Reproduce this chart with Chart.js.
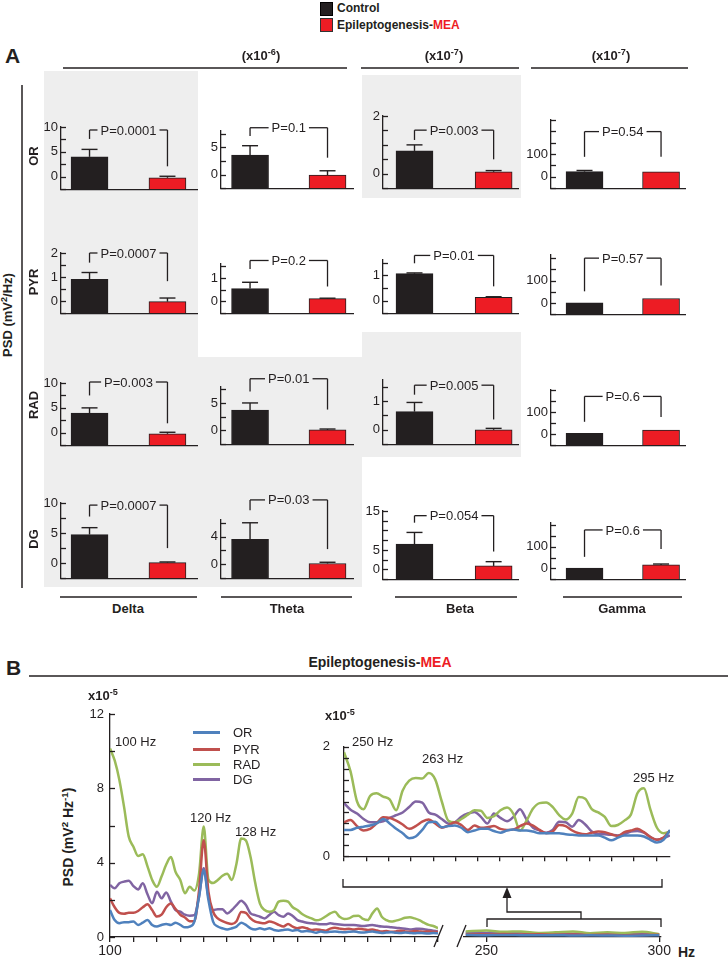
<!DOCTYPE html>
<html>
<head>
<meta charset="utf-8">
<script src="https://cdn.jsdelivr.net/npm/chart.js@4.4.0/dist/chart.umd.min.js"></script>
<style>
  html, body { margin:0; padding:0; background:#fff; }
  #page { position:relative; width:728px; height:959px; overflow:hidden; font-family:"Liberation Sans", Arial, sans-serif; color:#231f20; }
  .t { position:absolute; white-space:nowrap; line-height:1; }
  .gray { position:absolute; background:#eeeeee; }
  canvas { position:absolute; }
  sup { font-size:70%; vertical-align:0.5em; line-height:0; }
  svg { position:absolute; left:0; top:0; }
</style>
</head>
<body>
<div id="page"></div>
<script>
// ---------- panel A data (rows = regions, columns = bands) ----------
const regions = ['OR', 'PYR', 'RAD', 'DG'];
const bands = ['Delta', 'Theta', 'Beta', 'Gamma'];

const controlMean = [
  [4.0, 3.6, 0.79, 23],
  [0.91, 0.55, 1.06, 1],
  [3.96, 3.7, 0.63, 4],
  [4.75, 3.6, 6.5, 1]
];
const controlSem = [
  [1.5, 1.7, 0.21, 5],
  [0.28, 0.27, 0.03, 0],
  [1.04, 1.3, 0.32, 0],
  [1.15, 2.4, 3.0, 0]
];
const meaMean = [
  [-0.2, -0.1, 0.07, 22],
  [-0.02, 0.12, 0.13, 20],
  [-0.2, 0.1, 0.0, 19],
  [0.1, 0.12, 0.9, 16]
];
const meaSem = [
  [0.3, 0.8, 0.04, 0],
  [0.15, 0.02, 0.02, 0],
  [0.3, 0.16, 0.05, 0],
  [0.1, 0.18, 1.1, 4]
];
const pValues = [
  ['P=0.0001', 'P=0.1', 'P=0.003', 'P=0.54'],
  ['P=0.0007', 'P=0.2', 'P=0.01', 'P=0.57'],
  ['P=0.003', 'P=0.01', 'P=0.005', 'P=0.6'],
  ['P=0.0007', 'P=0.03', 'P=0.054', 'P=0.6']
];
// bracket height and leg ends (value units)
const bracketTop = [[9.4, 8.6, 1.51, 199], [2.0, 1.75, 1.78, 200], [10.2, 9.4, 1.55, 171], [9.65, 9.3, 13.8, 177]];
const legLeft = [[7.6, 7.1, 1.17, 88], [1.6, 1.39, 1.47, 52], [7.5, 7.1, 1.22, 56], [7.75, 7.8, 12.0, 53]];
const legRight = [[2.1, 3.1, 0.5, 88], [0.83, 0.64, 0.56, 78], [1.9, 3.8, 0.36, 78], [2.5, 2.2, 4.6, 89]];
// axes
const yMin = [[-2.5, -2.5, -0.5, -50], [-0.5, -0.5, -0.5, -50], [-2.5, -2.5, -0.5, -50], [-2.5, -2, -2.5, -50]];
const yMax = [[10, 8, 2, 250], [2, 1.6, 1.6, 214], [10, 7.9, 1.73, 200], [10, 6.4, 15, 209]];
const yStep = [[2.5, 2.5, 0.5, 50], [0.5, 0.5, 0.5, 50], [2.5, 2.5, 0.5, 50], [2.5, 2, 2.5, 50]];
const yLabels = [
  [[0, 5, 10], [0, 5], [0, 2], [0, 100]],
  [[0, 1, 2], [0, 1], [0, 1], [0, 100]],
  [[0, 5, 10], [0, 5], [0, 1], [0, 100]],
  [[0, 5, 10], [0, 4], [0, 5, 15], [0, 100]]
];

// ---------- panel B data (x10^-5) ----------
const freqLow = Array.from({length: 71}, (_, i) => 100 + i);
const orLow = [1.45, 0.91, 0.74, 0.8, 0.8, 0.83, 0.65, 0.77, 0.91, 0.65,
  0.56, 0.65, 0.7, 0.65, 0.77, 0.65, 0.52, 0.56, 0.83, 2.17,
  3.6, 2.0, 0.83, 0.56, 0.47, 0.41, 0.47, 0.56, 0.77, 0.65,
  0.47, 0.41, 0.47, 0.41, 0.47, 0.38, 0.34, 0.38, 0.41, 0.34,
  0.38, 0.29, 0.32, 0.29, 0.23, 0.29, 0.25, 0.28, 0.3, 0.27,
  0.25, 0.28, 0.3, 0.26, 0.24, 0.27, 0.29, 0.25, 0.22, 0.24,
  0.26, 0.23, 0.21, 0.24, 0.22, 0.2, 0.22, 0.2, 0.19, 0.21, 0.2];
const pyrLow = [2.08, 1.6, 1.3, 1.25, 1.3, 1.3, 1.4, 1.6, 1.76, 1.45,
  1.1, 1.2, 1.6, 1.8, 1.5, 1.2, 1.05, 0.85, 0.85, 2.5,
  5.2, 2.44, 1.36, 1.0, 0.85, 0.75, 0.7, 0.85, 1.35, 1.3,
  1.0, 0.83, 0.77, 0.74, 0.83, 0.77, 0.65, 0.56, 0.7, 0.56,
  0.47, 0.52, 0.47, 0.38, 0.41, 0.38, 0.34, 0.45, 0.5, 0.45,
  0.42, 0.45, 0.4, 0.45, 0.42, 0.38, 0.4, 0.35, 0.3, 0.32,
  0.28, 0.3, 0.34, 0.3, 0.28, 0.32, 0.3, 0.28, 0.3, 0.28, 0.27];
const radLow = [10.15, 9.5, 8.45, 7.0, 5.4, 4.86, 4.36, 4.45, 3.8, 3.07,
  2.7, 3.25, 3.9, 4.3, 3.5, 3.07, 2.35, 2.7, 2.5, 3.4,
  5.94, 3.1, 2.9, 3.07, 3.3, 3.4, 3.07, 3.96, 5.3, 5.2,
  4.3, 2.9, 1.8, 1.45, 1.36, 1.45, 1.9, 1.95, 1.9, 1.6,
  1.45, 1.24, 1.1, 1.0, 0.9, 0.95, 1.1, 1.27, 1.36, 1.09,
  0.97, 1.0, 1.13, 1.15, 0.97, 0.91, 1.27, 1.54, 1.09, 0.91,
  0.83, 0.88, 0.95, 1.04, 1.06, 1.0, 0.91, 0.77, 0.65, 0.59, 0.47];
const dgLow = [2.8, 2.62, 2.89, 2.98, 3.03, 2.74, 2.56, 2.89, 2.3, 1.81,
  2.44, 2.08, 2.4, 1.9, 1.45, 1.36, 1.2, 1.15, 1.18, 2.17,
  3.7, 2.17, 1.45, 1.5, 1.49, 1.27, 1.45, 1.72, 1.95, 1.72,
  1.27, 1.18, 1.09, 1.0, 1.18, 1.36, 1.18, 1.09, 1.27, 1.13,
  0.91, 0.83, 0.77, 0.74, 0.72, 0.68, 0.68, 0.74, 0.7, 0.67,
  0.65, 0.64, 0.65, 0.62, 0.59, 0.62, 0.65, 0.6, 0.56, 0.55,
  0.52, 0.5, 0.47, 0.44, 0.41, 0.43, 0.45, 0.42, 0.38, 0.34, 0.3];

// inset 250-300 Hz
const freqHigh = Array.from({length: 51}, (_, i) => 250 + i);
const orHigh = [0.48, 0.48, 0.52, 0.54, 0.56, 0.6, 0.68, 0.6, 0.5, 0.42,
  0.33, 0.36, 0.48, 0.62, 0.63, 0.53, 0.55, 0.56, 0.52, 0.44,
  0.47, 0.5, 0.5, 0.46, 0.43, 0.47, 0.49, 0.47, 0.47, 0.45,
  0.42, 0.42, 0.42, 0.42, 0.4, 0.39, 0.38, 0.38, 0.38, 0.38,
  0.34, 0.29, 0.34, 0.38, 0.38, 0.38, 0.36, 0.3, 0.25, 0.3, 0.48];
const pyrHigh = [0.62, 0.66, 0.55, 0.47, 0.5, 0.6, 0.71, 0.7, 0.65, 0.58,
  0.5, 0.55, 0.63, 0.67, 0.6, 0.52, 0.56, 0.62, 0.57, 0.48,
  0.56, 0.52, 0.53, 0.55, 0.5, 0.48, 0.49, 0.55, 0.6, 0.56,
  0.48, 0.42, 0.45, 0.57, 0.55, 0.47, 0.42, 0.4, 0.43, 0.45,
  0.44, 0.4, 0.37, 0.44, 0.47, 0.5, 0.44, 0.35, 0.3, 0.34, 0.47];
const radHigh = [1.9, 1.55, 1.0, 0.86, 1.1, 1.15, 1.09, 1.04, 0.84, 1.2,
  1.38, 1.43, 1.42, 1.52, 1.4, 1.0, 0.65, 0.62, 0.68, 0.76,
  0.84, 0.83, 0.7, 0.73, 0.84, 0.89, 0.77, 0.47, 0.65, 0.87,
  0.97, 0.98, 0.9, 0.75, 0.67, 0.78, 1.08, 1.05, 0.86, 0.8,
  0.72, 0.55, 0.57, 0.65, 0.76, 1.15, 1.24, 0.85, 0.52, 0.42, 0.45];
const dgHigh = [0.97, 0.85, 0.78, 0.68, 0.62, 0.62, 0.64, 0.7, 0.75, 0.8,
  0.9, 1.0, 0.98, 0.8, 0.76, 0.68, 0.6, 0.62, 0.72, 0.78,
  0.81, 0.72, 0.6, 0.78, 0.7, 0.64, 0.72, 0.86, 0.67, 0.52,
  0.47, 0.43, 0.48, 0.63, 0.62, 0.54, 0.66, 0.58, 0.45, 0.4,
  0.4, 0.39, 0.38, 0.4, 0.45, 0.46, 0.43, 0.35, 0.3, 0.33, 0.38];

// main plot after the axis break
const freqTail = [244, 250, 255, 260, 265, 270, 275, 280, 285, 290, 295, 300];
const orTail = [0.12, 0.1, 0.11, 0.1, 0.09, 0.1, 0.08, 0.09, 0.08, 0.07, 0.08, 0.1];
const pyrTail = [0.15, 0.14, 0.16, 0.13, 0.15, 0.12, 0.13, 0.11, 0.12, 0.1, 0.11, 0.12];
const radTail = [0.3, 0.35, 0.28, 0.3, 0.22, 0.25, 0.3, 0.2, 0.25, 0.22, 0.28, 0.15];
const dgTail = [0.25, 0.22, 0.2, 0.24, 0.18, 0.2, 0.17, 0.18, 0.15, 0.14, 0.16, 0.12];

const lineColors = ['#4f81bd', '#c0504d', '#9bbb59', '#8064a2'];

// ---------- layout ----------
const INK = '#231f20', RED = '#ed1c24';
const FONT = "'Liberation Sans', Arial, sans-serif";
Chart.defaults.font.family = FONT;
Chart.defaults.color = INK;

const colAxisX = [61, 221, 383, 551];
const colEndX = [197, 353, 518, 685];
const colXRange = [[-0.366, 1.379], [-0.375, 1.329], [-0.398, 1.308], [-0.438, 1.313]];
const cellTop = [[127, 131, 116, 120], [253, 264, 260, 255], [383, 387, 380, 390], [503, 520, 511, 523]];
const cellBottom = [[198, 197, 197, 197], [322, 322, 322, 323], [454, 453, 453, 454], [587, 587, 588, 588]];

const page = document.getElementById('page');

function box(x, y, w, h, css) {
  const d = document.createElement('div');
  d.className = 'gray';
  d.style.left = x + 'px'; d.style.top = y + 'px';
  d.style.width = w + 'px'; d.style.height = h + 'px';
  if (css) d.style.cssText += css;
  page.appendChild(d);
}

function label(x, y, html, size, bold, align, rot) {
  const d = document.createElement('div');
  d.className = 't';
  d.innerHTML = html;
  d.style.left = x + 'px'; d.style.top = y + 'px';
  d.style.fontSize = size + 'px';
  if (bold) d.style.fontWeight = 'bold';
  const tx = align === 'c' ? '-50%' : align === 'r' ? '-100%' : '0';
  d.style.transform = 'translate(' + tx + ', -50%)' + (rot ? ' rotate(-90deg)' : '');
  page.appendChild(d);
}

function addCanvas(x, y, w, h) {
  const c = document.createElement('canvas');
  c.width = w; c.height = h;
  c.style.left = x + 'px'; c.style.top = y + 'px';
  c.style.width = w + 'px'; c.style.height = h + 'px';
  page.appendChild(c);
  return c;
}

// gray backgrounds
box(44, 71, 154, 516);
box(198, 357, 164, 230);
box(362, 75, 159, 123);
box(362, 332, 159, 125);

// ticks pointing into the plot
const inwardTicks = {
  id: 'inwardTicks',
  afterDraw(chart, args, o) {
    if (!o.len) return;
    const ys = chart.scales.y, a = chart.chartArea, ctx = chart.ctx;
    ctx.save();
    ctx.strokeStyle = INK; ctx.lineWidth = 1.3;
    ys.ticks.forEach(t => {
      const py = Math.round(ys.getPixelForValue(t.value)) + 0.5;
      ctx.beginPath(); ctx.moveTo(a.left, py); ctx.lineTo(a.left + o.len, py); ctx.stroke();
    });
    ctx.restore();
  }
};

// error bars + significance bracket
const barMarks = {
  id: 'barMarks',
  afterDatasetsDraw(chart, args, o) {
    const ctx = chart.ctx, xs = chart.scales.x, ys = chart.scales.y;
    const seg = (x1, y1, x2, y2) => { ctx.beginPath(); ctx.moveTo(x1, y1); ctx.lineTo(x2, y2); ctx.stroke(); };
    ctx.save();
    ctx.strokeStyle = INK; ctx.lineWidth = 1.4;
    const bars = chart.getDatasetMeta(0).data;
    o.mean.forEach((m, i) => {
      if (!o.sem[i]) return;
      const x = bars[i].x, y0 = ys.getPixelForValue(m), y1 = ys.getPixelForValue(m + o.sem[i]);
      seg(x, y0, x, y1); seg(x - 8, y1, x + 8, y1);
    });
    const xl = xs.getPixelForValue(0), xr = xs.getPixelForValue(1);
    const yb = ys.getPixelForValue(o.top);
    ctx.lineWidth = 1.3;
    ctx.font = '13px ' + FONT;
    const tw = ctx.measureText(o.p).width, xm = (xl + xr) / 2;
    seg(xl, ys.getPixelForValue(o.legL), xl, yb);
    seg(xl, yb, xm - tw / 2 - 3, yb);
    seg(xm + tw / 2 + 3, yb, xr, yb);
    seg(xr, yb, xr, ys.getPixelForValue(o.legR));
    ctx.fillStyle = INK; ctx.textAlign = 'center'; ctx.textBaseline = 'middle';
    ctx.fillText(o.p, xm, yb + 1);
    ctx.restore();
  }
};

// ---------- panel A: 16 bar charts ----------
regions.forEach((reg, r) => {
  bands.forEach((band, c) => {
    const ax = colAxisX[c], top = cellTop[r][c], bot = cellBottom[r][c];
    const cv = addCanvas(ax - 30, top - 40, 30 + colEndX[c] - ax + 2, 40 + bot - top + 2);
    const shown = yLabels[r][c];
    new Chart(cv, {
      type: 'bar',
      data: {
        datasets: [{
          data: [{x: 0, y: controlMean[r][c]}, {x: 1, y: meaMean[r][c]}],
          backgroundColor: [INK, RED],
          borderColor: INK,
          borderWidth: 1,
          barThickness: 37,
          base: yMin[r][c]
        }]
      },
      options: {
        animation: false, responsive: false, events: [],
        layout: {padding: {top: 40, right: 2, bottom: 2, left: 0}},
        plugins: {
          legend: {display: false}, tooltip: {enabled: false},
          inwardTicks: {len: 5},
          barMarks: {
            mean: [controlMean[r][c], meaMean[r][c]], sem: [controlSem[r][c], meaSem[r][c]],
            p: pValues[r][c], top: bracketTop[r][c], legL: legLeft[r][c], legR: legRight[r][c]
          }
        },
        scales: {
          x: {
            type: 'linear', offset: false, min: colXRange[c][0], max: colXRange[c][1],
            ticks: {display: false}, grid: {display: false, drawTicks: false},
            border: {display: true, color: INK, width: 1.3},
            afterFit: s => { s.height = 0; }
          },
          y: {
            min: yMin[r][c], max: yMax[r][c], beginAtZero: false,
            ticks: {stepSize: yStep[r][c], includeBounds: false, autoSkip: false, padding: 3,
              font: {size: 13}, color: INK,
              callback: v => shown.includes(v) ? String(v) : ''},
            grid: {display: false, drawTicks: false},
            border: {display: true, color: INK, width: 1.3},
            afterFit: s => { s.width = 30; }
          }
        }
      },
      plugins: [inwardTicks, barMarks]
    });
  });
});

// ---------- panel B ----------
function lineSets(xs, arrays) {
  return arrays.map((arr, k) => ({
    label: regions[k],
    data: arr.map((v, i) => ({x: xs[i], y: v})),
    borderColor: lineColors[k], borderWidth: 2.5,
    pointRadius: 0, fill: false, cubicInterpolationMode: 'monotone'
  }));
}
const baseOpts = {animation: false, responsive: false, events: [],
  plugins: {legend: {display: false}, tooltip: {enabled: false}}};

// main plot, 100-170 Hz
new Chart(addCanvas(80, 700, 360, 259), {
  type: 'line',
  data: {datasets: lineSets(freqLow, [orLow, pyrLow, radLow, dgLow])},
  options: Object.assign({}, baseOpts, {
    layout: {padding: {top: 14, right: 2, bottom: 0, left: 0}},
    plugins: Object.assign({}, baseOpts.plugins, {inwardTicks: {len: 5}}),
    scales: {
      x: {type: 'linear', min: 100, max: 170,
        ticks: {stepSize: 5, autoSkip: false, maxRotation: 0, padding: 1, font: {size: 14},
          callback: v => v === 100 ? '100' : ''},
        grid: {drawOnChartArea: false, tickLength: 5, color: INK, lineWidth: 1.3},
        border: {color: INK, width: 1.3},
        afterFit: s => { s.height = 22; }},
      y: {min: 0, max: 12,
        ticks: {stepSize: 2, autoSkip: false, padding: 6, font: {size: 13},
          callback: v => v % 4 === 0 ? String(v) : ''},
        grid: {display: false, drawTicks: false},
        border: {color: INK, width: 1.3},
        afterFit: s => { s.width = 30; }}
    }
  }),
  plugins: [inwardTicks]
});

// main plot after the break
new Chart(addCanvas(460, 700, 212, 259), {
  type: 'line',
  data: {datasets: lineSets(freqTail, [orTail, pyrTail, radTail, dgTail])},
  options: Object.assign({}, baseOpts, {
    layout: {padding: {top: 14, right: 9, bottom: 0, left: 4}},
    scales: {
      x: {type: 'linear', min: 243.5, max: 300.5,
        afterBuildTicks: s => { s.ticks = [{value: 250}, {value: 300}]; },
        ticks: {autoSkip: false, maxRotation: 0, padding: 1, font: {size: 14}, callback: v => String(v)},
        grid: {drawOnChartArea: false, tickLength: 5, color: INK, lineWidth: 1.3},
        border: {color: INK, width: 1.3},
        afterFit: s => { s.height = 22; }},
      y: {display: false, min: 0, max: 12}
    }
  })
});

// inset 250-300 Hz
const insetTicks = Array.from({length: 15}, (_, i) => ({value: 250 + i * 3.42}));
new Chart(addCanvas(310, 725, 364, 153), {
  type: 'line',
  data: {datasets: lineSets(freqHigh, [orHigh, pyrHigh, radHigh, dgHigh])},
  options: Object.assign({}, baseOpts, {
    layout: {padding: {top: 12, right: 4, bottom: 0, left: 0}},
    plugins: Object.assign({}, baseOpts.plugins, {inwardTicks: {len: 5}}),
    scales: {
      x: {type: 'linear', min: 250, max: 300,
        afterBuildTicks: s => { s.ticks = insetTicks.slice(); },
        ticks: {display: false},
        grid: {drawOnChartArea: false, tickLength: 5, color: INK, lineWidth: 1.3},
        border: {color: INK, width: 1.3},
        afterFit: s => { s.height = 6; }},
      y: {min: 0, max: 2,
        ticks: {stepSize: 0.2, autoSkip: false, padding: 14, font: {size: 13},
          callback: v => (v === 0 || v === 2) ? String(v) : ''},
        grid: {display: false, drawTicks: false},
        border: {color: INK, width: 1.3},
        afterFit: s => { s.width = 34; }}
    }
  }),
  plugins: [inwardTicks]
});

// ---------- texts ----------
box(320, 2, 11, 12, 'background:' + INK + ';border:1px solid #000;');
box(320, 18, 11, 12, 'background:' + RED + ';border:1px solid #333;');
label(337, 8, 'Control', 12, true, 'l');
label(337, 25, 'Epileptogenesis-<span style="color:' + RED + '">MEA</span>', 12, true, 'l');

label(5, 55, 'A', 21, true, 'l');
label(261, 55, '(x10<sup>-6</sup>)', 13, true, 'c');
label(444, 55, '(x10<sup>-7</sup>)', 13, true, 'c');
label(611, 55, '(x10<sup>-7</sup>)', 13, true, 'c');
label(7, 315, 'PSD (mV<sup>2</sup>/Hz)', 13, true, 'c', true);
const rowLabelY = [156, 282, 405, 539];
regions.forEach((reg, r) => label(33, rowLabelY[r], reg, 13, true, 'c', true));
const bandLabelX = [128, 287, 460, 622];
bands.forEach((b, c) => label(bandLabelX[c], 608, b, 13, true, 'c'));

label(6, 667, 'B', 21, true, 'l');
label(380, 662, 'Epileptogenesis-<span style="color:' + RED + '">MEA</span>', 14, true, 'c');
label(88, 695, 'x10<sup>-5</sup>', 13, true, 'l');
label(325, 715, 'x10<sup>-5</sup>', 13, true, 'l');
label(68, 837, 'PSD (mV<sup>2</sup> Hz<sup>-1</sup>)', 14, true, 'c', true);
label(678, 952, 'Hz', 14, true, 'l');

const legendY = [732, 749, 764, 779];
regions.forEach((reg, k) => {
  box(193, legendY[k] - 1.5, 27, 3, 'background:' + lineColors[k] + ';');
  label(233, legendY[k], reg, 13, false, 'l');
});
label(115, 741, '100 Hz', 13, false, 'l');
label(190, 817, '120 Hz', 13, false, 'l');
label(235, 831, '128 Hz', 13, false, 'l');
label(352, 741, '250 Hz', 13, false, 'l');
label(422, 758, '263 Hz', 13, false, 'l');
label(633, 777, '295 Hz', 13, false, 'l');

// ---------- rules, brackets, arrow ----------
const svg = [];
function seg(x1, y1, x2, y2, w) {
  svg.push('<line x1="' + x1 + '" y1="' + y1 + '" x2="' + x2 + '" y2="' + y2 + '" stroke="' + INK + '" stroke-width="' + (w || 1.3) + '"/>');
}
function poly(pts, w) {
  svg.push('<polyline points="' + pts + '" fill="none" stroke="' + INK + '" stroke-width="' + (w || 1.3) + '"/>');
}
seg(63, 68, 347, 68, 1.5); seg(361, 68, 519, 68, 1.5); seg(531, 68, 688, 68, 1.5);
seg(22, 85, 22, 588, 1.5);
seg(60, 597, 197, 597, 1.5); seg(221, 597, 352, 597, 1.5); seg(395, 597, 517, 597, 1.5); seg(563, 597, 682, 597, 1.5);
seg(29, 676, 728, 676, 1.5);
poly('343,879 343,887 662,887 662,879');
poly('581,919 581,912 507,912 507,896');
svg.push('<polygon points="507,887 502.5,898 511.5,898" fill="' + INK + '"/>');
poly('487,927 487,919 661,919 661,927');
seg(434, 947, 443, 925); seg(457, 947, 466, 925);
const s = document.createElementNS('http://www.w3.org/2000/svg', 'svg');
s.setAttribute('width', 728); s.setAttribute('height', 959);
s.innerHTML = svg.join('');
page.appendChild(s);
</script>
</body>
</html>
